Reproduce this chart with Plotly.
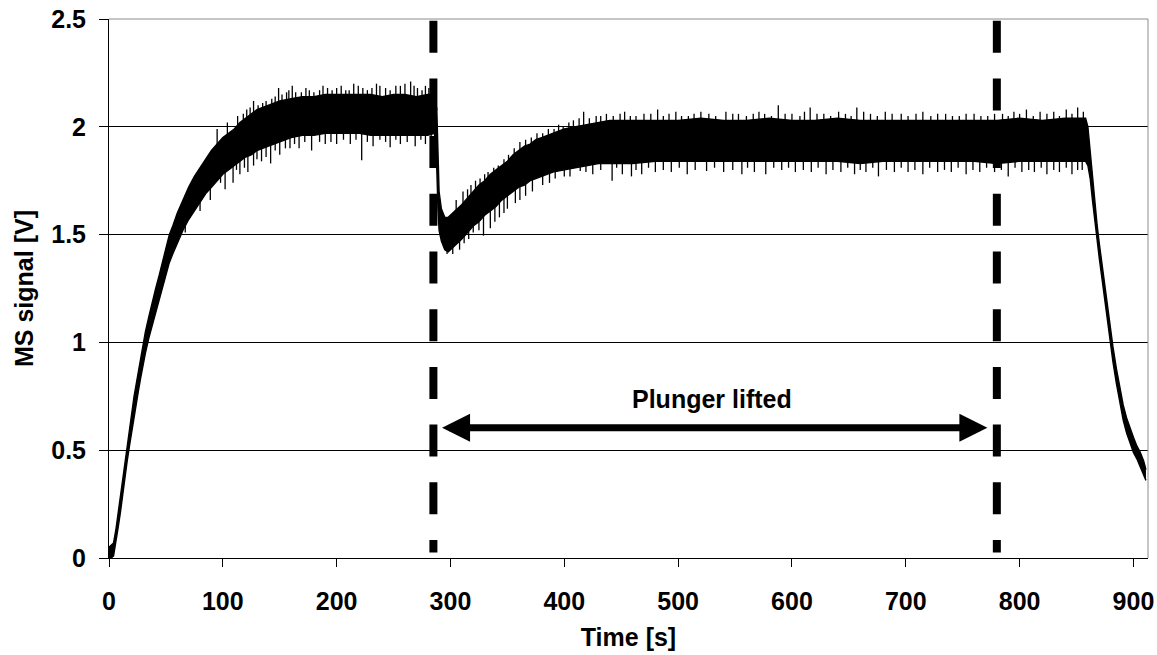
import numpy as np
import plotly.graph_objects as go

# ---------------- data ----------------
# band (dense noise core) of the MS signal: time [s], lower / upper edge [V]
time_s = [0, 2, 4, 6, 8, 10, 12, 14, 16, 18, 20, 22, 24, 26, 28, 30, 32, 35, 38, 41, 44, 47, 50, 53, 56,
          60, 65, 70, 75, 80, 85, 90, 95, 100, 105, 110, 115, 120, 125, 130, 135, 140, 145, 150,
          160, 170, 180, 190, 200, 210, 220, 230, 240, 250, 260, 270, 280, 286, 288, 289, 290, 292,
          295, 298, 302, 306, 310, 315, 320, 325, 330, 335, 340, 345, 350, 355, 360, 365, 370, 375,
          380, 390, 400, 410, 420, 430, 440, 460, 480, 500, 520, 540, 560, 580, 600, 620, 640, 660,
          680, 700, 720, 740, 760, 780, 800, 820, 840, 858, 860, 862, 864, 866, 868, 870, 873, 876,
          879, 882, 885, 888, 891, 894, 897, 900, 903, 906, 909, 911]
sig_low = [0.00, 0.00, 0.01, 0.07, 0.14, 0.21, 0.30, 0.37, 0.45, 0.52, 0.59, 0.66, 0.72, 0.78, 0.84, 0.90,
           0.95, 1.02, 1.08, 1.14, 1.20, 1.26, 1.32, 1.37, 1.41,
           1.46, 1.52, 1.57, 1.61, 1.65, 1.69, 1.72, 1.75, 1.78, 1.80, 1.82, 1.84, 1.86, 1.87, 1.89, 1.90,
           1.91, 1.92, 1.93,
           1.95, 1.96, 1.96, 1.97, 1.97, 1.97, 1.97, 1.96, 1.96, 1.96, 1.96, 1.96, 1.96, 1.97, 1.80, 1.62,
           1.52, 1.47,
           1.43, 1.42, 1.44, 1.46, 1.48, 1.51, 1.54, 1.56, 1.59, 1.61, 1.63, 1.66, 1.68, 1.70, 1.72, 1.73,
           1.75, 1.76,
           1.77, 1.79, 1.80, 1.81, 1.82, 1.83, 1.83, 1.83, 1.84, 1.84, 1.84, 1.84, 1.84, 1.84, 1.84, 1.84,
           1.84, 1.83,
           1.84, 1.84, 1.84, 1.84, 1.84, 1.83, 1.84, 1.84, 1.84, 1.84, 1.82, 1.76, 1.66, 1.56, 1.47, 1.39,
           1.27, 1.15,
           1.02, 0.91, 0.81, 0.73, 0.64, 0.58, 0.53, 0.49, 0.46, 0.42, 0.38, 0.36]
sig_high = [0.05, 0.06, 0.07, 0.13, 0.21, 0.28, 0.37, 0.45, 0.53, 0.60, 0.68, 0.75, 0.81, 0.87, 0.94, 1.00,
            1.05, 1.12, 1.19, 1.25, 1.31, 1.37, 1.44, 1.50, 1.54,
            1.60, 1.66, 1.72, 1.77, 1.81, 1.85, 1.89, 1.92, 1.95, 1.97, 1.99, 2.02, 2.04, 2.06, 2.08, 2.09,
            2.10, 2.11, 2.12,
            2.13, 2.14, 2.14, 2.15, 2.15, 2.15, 2.15, 2.15, 2.14, 2.15, 2.15, 2.14, 2.15, 2.15, 2.08, 1.90,
            1.70, 1.62,
            1.58, 1.58, 1.60, 1.62, 1.64, 1.67, 1.70, 1.73, 1.75, 1.78, 1.80, 1.82, 1.84, 1.87, 1.89, 1.91,
            1.92, 1.94,
            1.95, 1.97, 1.99, 2.00, 2.01, 2.02, 2.03, 2.03, 2.03, 2.03, 2.04, 2.03, 2.03, 2.04, 2.03, 2.03,
            2.04, 2.03,
            2.03, 2.03, 2.03, 2.03, 2.03, 2.03, 2.04, 2.03, 2.04, 2.04, 2.00, 1.88, 1.76, 1.65, 1.55, 1.46,
            1.34, 1.22,
            1.09, 0.98, 0.88, 0.80, 0.71, 0.65, 0.60, 0.56, 0.52, 0.49, 0.45, 0.41]

# individual noise spikes sticking out of the band: time [s], tip value [V]
spike_up_t = [95, 104, 113, 118, 121, 124, 127, 131, 135, 138, 143, 146, 149, 152, 156, 158, 161, 164, 169,
              173, 176, 180, 185, 188, 192, 196, 200, 204, 208, 211, 215, 219, 223, 227, 231, 235, 238,
              243, 247, 252, 256, 260, 265, 268, 271, 275, 278, 281, 284,
              305, 311, 315, 318, 322, 326, 330, 333, 338, 342, 347, 351, 356, 361, 366, 371, 376, 381,
              386, 391, 395, 399, 404, 408, 413, 417, 422, 428, 432, 437, 443, 449, 453, 458, 463, 470,
              476, 482, 487, 492, 498, 503, 509, 514, 520, 527, 533, 542, 548, 553, 560, 566, 571, 576,
              582, 588, 594, 600, 607, 611, 616, 622, 628, 634, 641, 647, 652, 657, 663, 669, 675, 682,
              688, 696, 702, 709, 715, 722, 728, 735, 741, 747, 753, 760, 766, 772, 778, 785, 790, 795,
              800, 806, 812, 818, 824, 830, 835, 841, 846, 851, 856]
spike_up_v = [1.99, 2.02, 2.05, 2.06, 2.08, 2.09, 2.12, 2.10, 2.11, 2.12, 2.13, 2.14, 2.18, 2.15, 2.16, 2.17,
              2.19, 2.16, 2.16, 2.18, 2.17, 2.16, 2.17, 2.19, 2.18, 2.17, 2.18, 2.19, 2.17, 2.17, 2.20,
              2.19, 2.18, 2.17, 2.18, 2.20, 2.19, 2.18, 2.17, 2.19, 2.19, 2.20, 2.21, 2.19, 2.18, 2.17,
              2.19, 2.18, 2.21,
              1.66, 1.70, 1.71, 1.73, 1.75, 1.76, 1.78, 1.79, 1.81, 1.82, 1.85, 1.87, 1.90, 1.93, 1.94,
              1.95, 1.97, 1.97, 1.99, 1.99, 2.01, 2.00, 2.02, 2.03, 2.04, 2.07, 2.04, 2.05, 2.05, 2.06,
              2.05, 2.06, 2.07, 2.05, 2.05, 2.06, 2.06, 2.08, 2.05, 2.06, 2.07, 2.05, 2.05, 2.06, 2.07,
              2.06, 2.05, 2.07, 2.06, 2.06, 2.05, 2.06, 2.07, 2.06, 2.05, 2.10, 2.06, 2.06, 2.05, 2.07,
              2.09, 2.06, 2.06, 2.05, 2.07, 2.06, 2.05, 2.09, 2.07, 2.06, 2.05, 2.07, 2.06, 2.06, 2.05,
              2.06, 2.07, 2.05, 2.06, 2.06, 2.05, 2.05, 2.06, 2.06, 2.05, 2.05, 2.06, 2.06, 2.05, 2.07,
              2.06, 2.08, 2.05, 2.07, 2.06, 2.07, 2.05, 2.08, 2.06, 2.09, 2.07]
spike_dn_t = [67, 71, 80, 89, 98, 102, 109, 112, 115, 119, 122, 127, 130, 134, 138, 142, 146, 150, 155,
              159, 163, 167, 172, 178, 185, 190, 195, 200, 206, 212, 217, 222, 227, 232, 238, 243, 247,
              252, 256, 262, 269, 274, 278, 283,
              297, 302, 308, 312, 316, 320, 325, 329, 335, 339, 343, 347, 350, 357, 361, 366, 372, 381,
              387, 392, 400, 405, 414, 419, 425, 432, 442, 446, 451, 459, 463, 468, 474, 480, 487, 494,
              501, 508, 515, 525, 532, 540, 548, 556, 561, 567, 577, 584, 591, 597, 603, 610, 617, 623,
              630, 636, 643, 649, 655, 660, 665, 671, 676, 683, 690, 696, 702, 708, 715, 721, 728, 734,
              740, 746, 753, 759, 765, 771, 778, 784, 790, 796, 802, 808, 813, 819, 824, 830, 835, 841,
              846, 851, 855]
spike_dn_v = [1.51, 1.58, 1.61, 1.66, 1.74, 1.71, 1.74, 1.80, 1.78, 1.81, 1.79, 1.82, 1.85, 1.84, 1.86,
              1.83, 1.89, 1.87, 1.90, 1.90, 1.92, 1.90, 1.93, 1.89, 1.93, 1.92, 1.93, 1.92, 1.94, 1.92,
              1.94, 1.845, 1.93, 1.91, 1.94, 1.93, 1.905, 1.94, 1.92, 1.93, 1.91, 1.94, 1.92, 1.93,
              1.41, 1.41, 1.43, 1.46, 1.48, 1.51, 1.52, 1.495, 1.53, 1.56, 1.58, 1.60, 1.62, 1.646,
              1.66, 1.68, 1.70, 1.73, 1.74, 1.76, 1.77, 1.77, 1.795, 1.79, 1.78, 1.80, 1.75, 1.81, 1.78,
              1.77, 1.80, 1.78, 1.81, 1.79, 1.80, 1.79, 1.81, 1.78, 1.80, 1.795, 1.81, 1.79, 1.80, 1.78,
              1.81, 1.79, 1.78, 1.81, 1.80, 1.81, 1.79, 1.80, 1.79, 1.81, 1.78, 1.80, 1.79, 1.81, 1.78,
              1.80, 1.79, 1.81, 1.77, 1.80, 1.79, 1.81, 1.79, 1.80, 1.78, 1.81, 1.79, 1.80, 1.79, 1.81,
              1.78, 1.80, 1.79, 1.81, 1.79, 1.80, 1.77, 1.81, 1.79, 1.80, 1.79, 1.81, 1.78, 1.80, 1.79,
              1.81, 1.78, 1.80, 1.80]

# event markers and annotation
event_times = [285, 780]
arrow_start, arrow_end, arrow_level = 291.3, 771.7, 0.604
label_text = "Plunger lifted"
label_x, label_y = 530, 0.736

x_ticks = [0, 100, 200, 300, 400, 500, 600, 700, 800, 900]
y_ticks = [0, 0.5, 1, 1.5, 2, 2.5]
x_title = "Time [s]"
y_title = "MS signal [V]"

# ---------------- figure ----------------
FONT = "Arial, 'Liberation Sans', sans-serif"
fig = go.Figure()

fig.add_trace(go.Scatter(x=time_s, y=sig_low, mode="lines",
                         line=dict(color="black", width=1.4), showlegend=False, hoverinfo="skip"))
fig.add_trace(go.Scatter(x=time_s, y=sig_high, mode="lines", fill="tonexty", fillcolor="black",
                         line=dict(color="black", width=1.4), showlegend=False, hoverinfo="skip"))

mid = (np.array(sig_low) + np.array(sig_high)) / 2.0
sx, sy = [], []
for t, v in zip(spike_up_t + spike_dn_t, spike_up_v + spike_dn_v):
    base = float(np.interp(t, time_s, mid))
    sx += [t, t, None]
    sy += [base, v, None]
fig.add_trace(go.Scatter(x=sx, y=sy, mode="lines", line=dict(color="black", width=1.3),
                         showlegend=False, hoverinfo="skip"))

for et in event_times:
    fig.add_shape(type="line", xref="x", yref="y", x0=et, x1=et, y0=2.492, y1=0.026,
                  line=dict(color="black", width=8, dash="32px,25.7px"), layer="above")

# plot-area frame (grey top/right edges)
fig.add_shape(type="path", xref="paper", yref="paper", path="M0,1 L1,1 L1,0",
              line=dict(color="#8c8c8c", width=1), layer="above")

# double-headed arrow
fig.add_annotation(x=arrow_end, y=arrow_level, ax=arrow_start, ay=arrow_level,
                   xref="x", yref="y", axref="x", ayref="y", text="", showarrow=True,
                   arrowhead=2, startarrowhead=2, arrowside="end+start",
                   arrowwidth=7, arrowsize=0.8, startarrowsize=0.8,
                   arrowcolor="black", standoff=0, startstandoff=0)
fig.add_annotation(x=label_x, y=label_y, xref="x", yref="y", text="<b>%s</b>" % label_text,
                   showarrow=False, font=dict(family=FONT, size=25, color="black"))

fig.update_layout(
    width=1157, height=655,
    margin=dict(l=109, r=9, t=19, b=97),
    paper_bgcolor="white", plot_bgcolor="white",
    font=dict(family=FONT, size=25, color="black"),
    showlegend=False,
)
fig.update_xaxes(range=[0, 912.8], tickvals=x_ticks, ticktext=["<b>%d</b>" % v for v in x_ticks],
                 ticks="outside", ticklen=8, tickwidth=1, tickcolor="black", automargin=False,
                 ticklabelstandoff=13,
                 showline=True, linecolor="black", linewidth=1, showgrid=False, zeroline=False,
                 title=dict(text="<b>%s</b>" % x_title, font=dict(size=25), standoff=14),
                 tickfont=dict(size=25))
fig.update_yaxes(range=[0, 2.5], tickvals=y_ticks,
                 ticktext=["<b>%g</b>" % v for v in y_ticks],
                 ticks="outside", ticklen=9, tickwidth=1, tickcolor="black", automargin=False,
                 ticklabelstandoff=8,
                 showline=True, linecolor="black", linewidth=1,
                 showgrid=True, gridcolor="black", gridwidth=1, zeroline=False,
                 title=dict(text="<b>%s</b>" % y_title, font=dict(size=25), standoff=10),
                 tickfont=dict(size=25))

fig.write_html("out.html", config={"displayModeBar": False},
               post_script="document.body.style.margin='0';document.body.style.padding='0';")
